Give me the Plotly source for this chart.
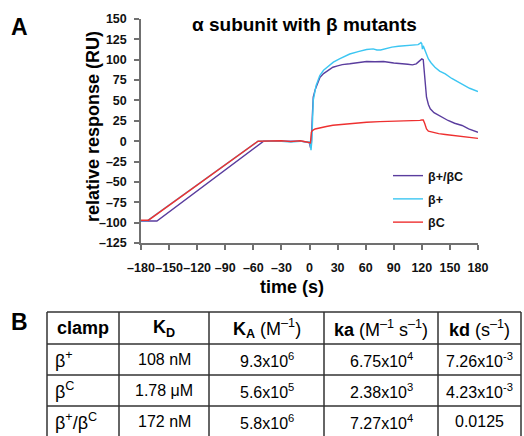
import plotly.graph_objects as go

# ---------------- data ----------------
t_pc = [-180, -170, -163, -49, -40, -30, -20, -10, -3, 0, 1, 2, 3, 4, 6, 8, 11, 15, 20, 25, 30, 35,
        43, 50, 61, 70, 79, 90, 97, 105, 110, 114, 117, 120, 121.5, 122.5, 123.5, 125, 127, 129,
        133, 138, 143, 148, 155, 163, 170, 180]
v_pc = [-98, -98, -98, 0, 0, 0.5, 0, 0, -1, -2, -8, -2, 30, 54, 63, 70, 78, 83, 87, 90.8, 92.5, 94,
        95, 96, 97.8, 97.5, 97.8, 96, 95.7, 94.5, 93.7, 95, 98, 101, 100, 85, 65, 54, 45, 39.7,
        35, 31.5, 28, 25.4, 22, 19.3, 15, 11]

t_p = [-180, -173, -55, -45, -30, -20, -10, -3, 0, 1, 1.6, 2.5, 4, 7, 11, 15, 20, 25.5, 32, 43, 52,
       61, 68, 72, 76, 82, 88, 95, 103, 109, 113, 116, 118, 119, 120, 120.6, 121.5, 123.4, 125,
       127, 130, 134, 139, 145, 152, 162, 171, 180]
v_p = [-97.5, -97.5, 0, 0, 0, -1, 0, -1, -1, -5, -11, 0, 50, 68, 80.6, 87, 92, 97, 101, 107, 110,
       112.5, 113.3, 112, 112, 114, 115.4, 116.5, 117.4, 118.3, 119, 118.5, 120, 121, 119.5, 113,
       117, 111, 106, 101, 96, 90.8, 86, 82.7, 77, 70.4, 65, 61]

t_c = [-180, -172, -55, -45, -30, -20, -10, -3, 0, 1, 2, 3, 6, 11, 18, 25, 35, 43, 52, 61, 75, 90,
       100, 113, 118, 120, 121.5, 123, 125, 127, 132, 138, 145, 155, 163, 172, 180]
v_c = [-97, -97, 0, 0, 0.5, -0.5, 0.5, -1, -1.5, -2, 11, 13, 15, 16.5, 18, 19.5, 20.5, 22, 22.5,
       23.3, 24, 24.5, 24.5, 24.5, 25.5, 26.2, 26, 22, 15, 12.3, 10.5, 9.3, 8.2, 7, 5.8, 4.8, 3.5]

series_names = ["β+/βC", "β+", "βC"]
series_colors = ["#5a3d9e", "#3cc6f2", "#ee3030"]

x_ticks = [-180, -150, -120, -90, -60, -30, 0, 30, 60, 90, 120, 150, 180]
x_ticktext = ["–180", "–150", "–120", "–90", "–60", "–30", "0", "30", "60", "90", "120", "150", "180"]
y_ticks = [-125, -100, -75, -50, -25, 0, 25, 50, 75, 100, 125, 150]
y_ticktext = ["–125", "–100", "–75", "–50", "–25", "0", "25", "50", "75", "100", "125", "150"]

table_header = ["<b>clamp</b>", "<b>K<sub>D</sub></b>", "<b>K<sub>A</sub></b> (M<sup>–1</sup>)",
                "<b>ka</b> (M<sup>–1</sup> s<sup>–1</sup>)", "<b>kd</b> (s<sup>–1</sup>)"]
table_clamp = ["β<sup>+</sup>", "β<sup>C</sup>", "β<sup>+</sup>/β<sup>C</sup>"]
table_KD = ["108 nM", "1.78 μM", "172 nM"]
table_KA = ["9.3x10<sup>6</sup>", "5.6x10<sup>5</sup>", "5.8x10<sup>6</sup>"]
table_ka = ["6.75x10<sup>4</sup>", "2.38x10<sup>3</sup>", "7.27x10<sup>4</sup>"]
table_kd = ["7.26x10<sup>-3</sup>", "4.23x10<sup>-3</sup>", "0.0125"]

# ---------------- layout geometry (pixels) ----------------
W, H = 524, 436
PL, PR, PT, PB = 141, 478, 19, 243
FONT = "Arial, Liberation Sans, Helvetica, sans-serif"


def px_x(px):
    return (px - PL) / (PR - PL)


def px_y(py):
    return (PB - py) / (PB - PT)


fig = go.Figure()
for t, v, name, col in zip([t_pc, t_p, t_c], [v_pc, v_p, v_c], series_names, series_colors):
    fig.add_trace(go.Scatter(x=t, y=v, mode="lines", name=name, legendgroup=name,
                             line=dict(color=col, width=1.4)))

axis_common = dict(showgrid=False, zeroline=False, showline=True, linecolor="#707070",
                   linewidth=1.5, ticks="outside", ticklen=5, tickwidth=1.5, tickcolor="#707070",
                   tickangle=0,
                   tickfont=dict(family=FONT, size=12.5, color="#111", weight="bold"))

fig.update_xaxes(range=[-180, 180], tickmode="array", tickvals=x_ticks, ticktext=x_ticktext,
                 ticklabelstandoff=7, **axis_common)
fig.update_yaxes(range=[-125, 150], tickmode="array", tickvals=y_ticks, ticktext=y_ticktext,
                 ticklabelstandoff=5, **axis_common)

annotations = []


def ann(text, px, py, size, xanchor="center", angle=0, weight="normal"):
    annotations.append(dict(text=text, x=px_x(px), y=px_y(py), xref="paper", yref="paper",
                            xanchor=xanchor, yanchor="middle", showarrow=False, textangle=angle,
                            font=dict(family=FONT, size=size, color="#000", weight=weight)))


ann("<b>A</b>", 19, 27, 23)
ann("<b>B</b>", 19, 322, 23)
ann("<b>α subunit with β mutants</b>", 304, 24, 19)
ann("<b>relative response (RU)</b>", 93, 127, 18, angle=-90)
ann("<b>time (s)</b>", 292, 287, 18)

# table
col_edges = [47, 119, 209, 324, 438, 521]
row_edges = [312, 344, 375, 406, 437]
shapes = []
for cx in col_edges:
    shapes.append(dict(type="line", xref="paper", yref="paper", x0=px_x(cx), x1=px_x(cx),
                       y0=px_y(row_edges[0]), y1=px_y(row_edges[-1]),
                       line=dict(color="#333", width=1.5)))
for ry in row_edges:
    shapes.append(dict(type="line", xref="paper", yref="paper", x0=px_x(col_edges[0]),
                       x1=px_x(col_edges[-1]), y0=px_y(ry), y1=px_y(ry),
                       line=dict(color="#333", width=1.5)))

col_centers = [(col_edges[i] + col_edges[i + 1]) / 2 for i in range(5)]
hdr_y = (row_edges[0] + row_edges[1]) / 2
for i, h in enumerate(table_header):
    ann(h, col_centers[i], hdr_y, 18)
for r in range(3):
    ry = (row_edges[r + 1] + row_edges[r + 2]) / 2
    ann(table_clamp[r], 53, ry, 18, xanchor="left")
    ann(table_KD[r], col_centers[1], ry, 16)
    ann(table_KA[r], col_centers[2], ry, 16)
    ann(table_ka[r], col_centers[3], ry, 16)
    ann(table_kd[r], col_centers[4], ry, 16)

fig.update_layout(
    width=W, height=H, autosize=False,
    margin=dict(l=PL, r=W - PR, t=PT, b=H - PB, pad=0),
    paper_bgcolor="white", plot_bgcolor="white",
    showlegend=True,
    legend=dict(x=px_x(388), y=px_y(161), xanchor="left", yanchor="top",
                bgcolor="rgba(0,0,0,0)", tracegroupgap=4,
                font=dict(family=FONT, size=12.5, color="#111", weight="bold")),
    annotations=annotations, shapes=shapes,
)

fig.write_html("out.html")
